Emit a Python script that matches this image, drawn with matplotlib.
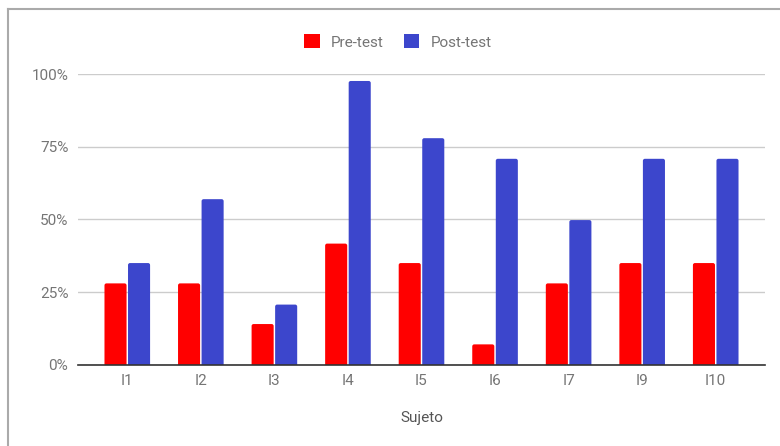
import matplotlib
matplotlib.use("Agg")
import matplotlib.pyplot as plt
from matplotlib.patches import FancyBboxPatch, Rectangle
from matplotlib.lines import Line2D
from matplotlib.ticker import FuncFormatter

plt.rcParams['font.family'] = ['Roboto', 'DejaVu Sans']

sujetos = ["I1", "I2", "I3", "I4", "I5", "I6", "I7", "I9", "I10"]
pre_test = [0.28, 0.28, 0.14, 0.417, 0.35, 0.07, 0.28, 0.35, 0.35]
post_test = [0.35, 0.57, 0.207, 0.977, 0.78, 0.709, 0.498, 0.709, 0.709]
series_names = ["Pre-test", "Post-test"]
series_colors = ["#ff0000", "#3c46cc"]
yticks = [0, 0.25, 0.5, 0.75, 1.0]

W, H, DPI = 780, 446, 100
fig = plt.figure(figsize=(W / DPI, H / DPI), dpi=DPI)
ax = fig.add_axes([78 / W, (H - 364.7) / H, (765 - 78) / W, (364.7 - 74.3) / H])

x = range(len(sujetos))
offset, width = 0.16, 0.30
ax.set_xlim(-0.67, len(sujetos) - 1 + 0.67)
ax.set_ylim(0, 1.0)

# pixel -> data scale for rounded corners
px_x = (len(sujetos) - 1 + 1.34) / (765 - 78)
px_y = 1.0 / (364.7 - 74.3)
r = 2.0

for vals, color, sign in [(pre_test, series_colors[0], -1), (post_test, series_colors[1], 1)]:
    bars = ax.bar([i + sign * offset for i in x], vals, width=width, color=color)
    for b in bars:
        b.set_visible(False)
        bx, bw, bh = b.get_x(), b.get_width(), b.get_height()
        patch = FancyBboxPatch((bx, -r * px_y * 2), bw, bh + r * px_y * 2,
                               boxstyle=f"round,pad=0,rounding_size={r * px_x}",
                               mutation_aspect=px_y / px_x,
                               facecolor=color, edgecolor="none", zorder=3)
        ax.add_patch(patch)

ax.set_yticks(yticks)
ax.yaxis.set_major_formatter(FuncFormatter(lambda v, p: f"{int(round(v * 100))}%"))
ax.grid(axis="y", color="#cccccc", linewidth=1.0, zorder=0)
ax.set_axisbelow(True)
for s in ["top", "right", "left"]:
    ax.spines[s].set_visible(False)
ax.spines["bottom"].set_color("#333333")
ax.spines["bottom"].set_linewidth(1.2)
ax.spines["bottom"].set_zorder(4)

ax.set_xticks(list(x))
ax.set_xticklabels(sujetos)
ax.tick_params(axis="both", length=0, labelsize=11, colors="#757575")
ax.tick_params(axis="x", pad=7)
ax.tick_params(axis="y", pad=7)

ax.set_xlabel("Sujeto", fontsize=11, color="#555555", labelpad=16)

# legend
handles = [Rectangle((0, 0), 1, 1, facecolor=c, edgecolor="none") for c in series_colors]
fig.legend(handles, series_names, loc="center", bbox_to_anchor=(398 / W, 1 - 42 / H),
           ncol=2, frameon=False, fontsize=11, handlelength=1.0, handleheight=1.0,
           handletextpad=0.75, columnspacing=1.3, labelcolor="#757575")

# panel border (top and left edges)
fig.add_artist(Line2D([7.5 / W, 1.0], [1 - 8.5 / H, 1 - 8.5 / H], color="#aaaaaa", linewidth=1.5))
fig.add_artist(Line2D([7.5 / W, 7.5 / W], [0, 1 - 8.5 / H], color="#aaaaaa", linewidth=1.5))

fig.savefig("out.png", dpi=DPI, facecolor="white")
